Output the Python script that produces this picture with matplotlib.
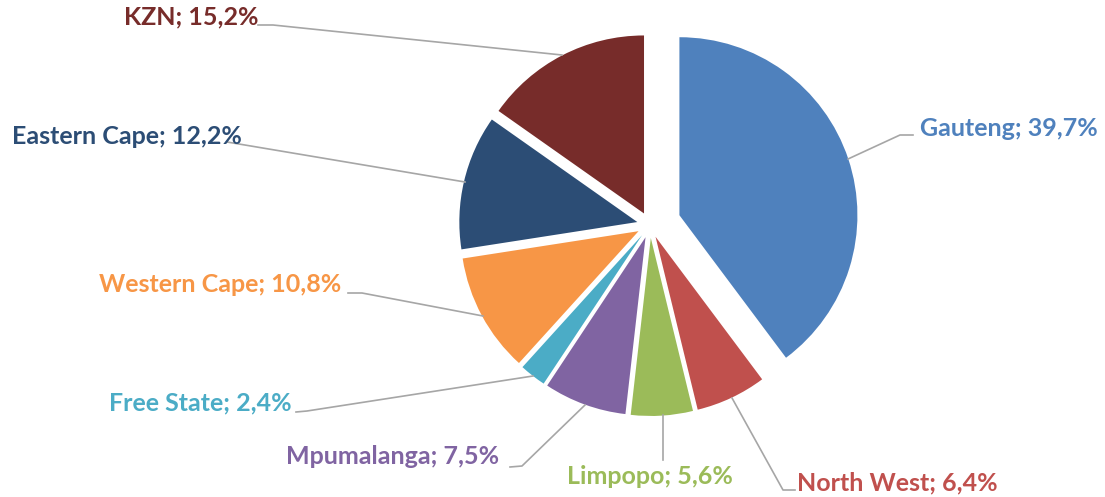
import matplotlib.pyplot as plt

# data
provinces = ["Gauteng", "North West", "Limpopo", "Mpumalanga", "Free State",
             "Western Cape", "Eastern Cape", "KZN"]
shares = [39.7, 6.4, 5.6, 7.5, 2.4, 10.8, 12.2, 15.2]
colours = ["#4F81BD", "#C0504D", "#9BBB59", "#8064A2", "#4BACC6",
           "#F79646", "#2C4D75", "#772C2A"]
# offset of each slice, in pixels
explode = [31, 13, 13, 13, 13, 13, 13, 13]

W, H = 1105, 497
fig = plt.figure(figsize=(W / 100, H / 100), dpi=100)
ax = fig.add_axes([0, 0, 1, 1])


def fy(y):
    # picture rows run downward
    return H - y


ax.pie(shares, colors=colours, explode=explode, startangle=90, counterclock=False,
       center=(650, fy(225)), radius=178, frame=True,
       wedgeprops=dict(linewidth=0))
ax.set_xlim(0, W)
ax.set_ylim(0, H)
ax.set_aspect("equal")
ax.axis("off")

# label text centre and leader line points (pixel layout)
label_pos = {
    "Gauteng": (1009, 128),
    "North West": (897, 483),
    "Limpopo": (650, 477),
    "Mpumalanga": (393, 457),
    "Free State": (200, 403),
    "Western Cape": (220, 285),
    "Eastern Cape": (127, 137),
    "KZN": (191, 17),
}
leaders = {
    "Gauteng": [(913, 135), (900, 135), (848, 159)],
    "North West": [(795, 490), (783, 490), (732, 398)],
    "Limpopo": [(663, 460), (663, 415)],
    "Mpumalanga": [(510, 467), (522, 466), (585, 405)],
    "Free State": [(296, 412), (307, 411), (533, 376)],
    "Western Cape": [(348, 293), (362, 293), (483, 316)],
    "Eastern Cape": [(227, 142), (465, 182)],
    "KZN": [(258, 25), (273, 25), (562, 55)],
}

for name, val, col in zip(provinces, shares, colours):
    pts = leaders[name]
    ax.plot([p[0] for p in pts], [fy(p[1]) for p in pts], color="#A6A6A6",
            linewidth=1.2, zorder=1)
    x, y = label_pos[name]
    txt = f"{name}; {val:.1f}%".replace(".", ",")
    ax.text(x, fy(y), txt, ha="center", va="center", color=col,
            fontsize=18, fontweight="bold", family=["Lato", "DejaVu Sans"], zorder=3)

fig.savefig("out.png", dpi=100)
